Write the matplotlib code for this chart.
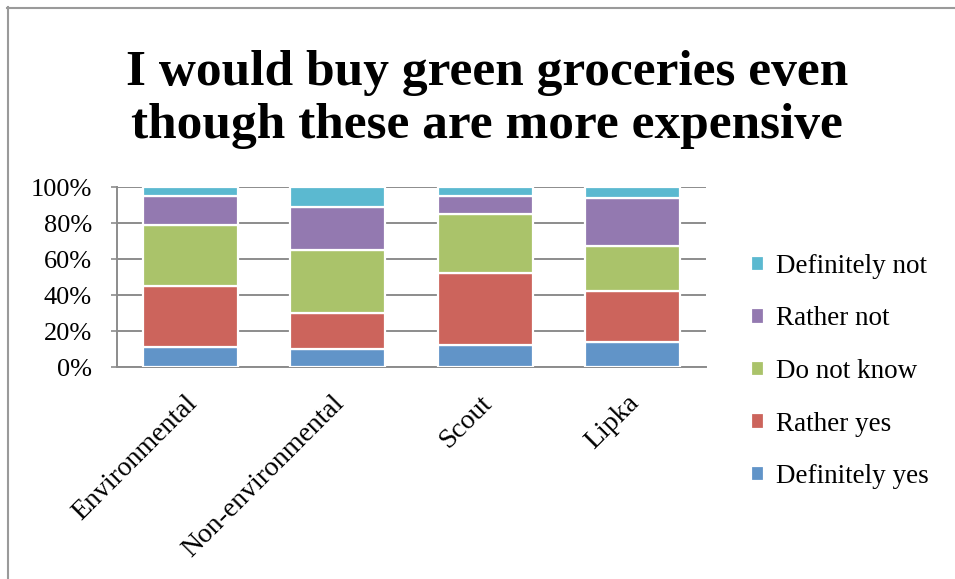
import matplotlib
matplotlib.use("Agg")
import matplotlib.pyplot as plt
from matplotlib.lines import Line2D
from matplotlib.transforms import ScaledTranslation
import numpy as np

# Survey answers, percent of each group
groups = ["Environmental", "Non-environmental", "Scout", "Lipka"]
definitely_yes = [11, 10, 12, 14]
rather_yes = [34, 20, 40, 28]
do_not_know = [34, 35, 33, 25]
rather_not = [16, 24, 10, 27]
definitely_not = [5, 11, 5, 6]

series = [
    ("Definitely yes", definitely_yes, "#6194c8"),
    ("Rather yes", rather_yes, "#cc645c"),
    ("Do not know", do_not_know, "#aac36a"),
    ("Rather not", rather_not, "#9379b0"),
    ("Definitely not", definitely_not, "#5bb9d0"),
]

serif = ["Liberation Serif", "DejaVu Serif"]

fig = plt.figure(figsize=(9.55, 5.79), dpi=100)
ax = fig.add_axes([0.1225, 0.366, 0.617, 0.311])

x = np.arange(len(groups))
bottom = np.zeros(len(groups))
for name, vals, color in series:
    vals = np.array(vals, dtype=float)
    ax.bar(x, vals, 0.645, bottom=bottom, color=color, edgecolor="white",
           linewidth=1.6, label=name, zorder=3)
    bottom += vals

ax.set_xlim(-0.5, 3.5)
ax.set_ylim(0, 100)
ax.set_yticks(range(0, 101, 20))
ax.set_yticklabels([f"{v}%" for v in range(0, 101, 20)], fontsize=19,
                   family=serif)
ax.set_xticks(x)
ax.set_xticklabels(groups, rotation=45, ha="right", rotation_mode="anchor",
                   fontsize=20, family=serif)
ax.tick_params(axis="x", length=0, pad=17)
ax.tick_params(axis="y", length=4, color="#8c8c8c", width=1.2, pad=14)

# nudge the slanted category names a little to the left
shift = ScaledTranslation(-6 / 100, 0, fig.dpi_scale_trans)
for lbl in ax.get_xticklabels():
    lbl.set_transform(lbl.get_transform() + shift)

ax.grid(axis="y", color="#8c8c8c", linewidth=1.4, zorder=0)
for side in ("top", "right"):
    ax.spines[side].set_visible(False)
for side in ("left", "bottom"):
    ax.spines[side].set_color("#8c8c8c")
    ax.spines[side].set_linewidth(1.4)

handles, labels = ax.get_legend_handles_labels()
ax.legend(handles[::-1], labels[::-1], loc="center left",
          bbox_to_anchor=(1.057, -0.025), frameon=False, handlelength=0.5,
          handleheight=0.5, handletextpad=0.45, labelspacing=1.02,
          borderaxespad=0, prop={"family": serif, "size": 19.5})

fig.text(0.51, 0.828, "I would buy green groceries even\nthough these are more expensive",
         ha="center", va="center", fontsize=37, fontweight="bold",
         family=serif, linespacing=1.22)

# thin chart-area frame along the top and left edges
fig.add_artist(Line2D([7 / 955, 1], [1 - 7.5 / 579] * 2, color="#9a9a9a",
                      linewidth=1.5, transform=fig.transFigure))
fig.add_artist(Line2D([7.5 / 955] * 2, [0, 1 - 7 / 579], color="#9a9a9a",
                      linewidth=1.5, transform=fig.transFigure))

fig.savefig("out.png", dpi=100)
